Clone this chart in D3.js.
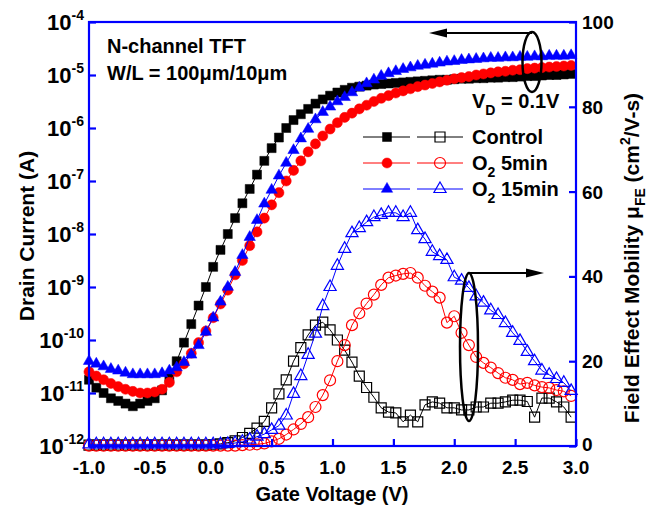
<!DOCTYPE html>
<html><head><meta charset="utf-8">
<script src="https://cdn.jsdelivr.net/npm/d3@7"></script>
<style>
body{margin:0;background:#fff}
svg{display:block}
text{font-family:"Liberation Sans",Arial,Helvetica,sans-serif;font-weight:bold;fill:#000}
</style>
</head><body>
<svg id="chart" width="647" height="510"></svg>
<script>
// ---- data ----
const gateVoltage = [
-1.00,-0.94,-0.88,-0.82,-0.76,-0.70,-0.64,-0.58,-0.52,-0.46,
-0.40,-0.34,-0.28,-0.22,-0.16,-0.10,-0.04,0.02,0.08,0.14,
0.20,0.26,0.32,0.38,0.44,0.50,0.56,0.62,0.68,0.74,
0.80,0.86,0.92,0.98,1.04,1.10,1.16,1.22,1.28,1.34,
1.40,1.46,1.52,1.58,1.64,1.70,1.76,1.82,1.88,1.94,
2.00,2.06,2.12,2.18,2.24,2.30,2.36,2.42,2.48,2.54,
2.60,2.66,2.72,2.78,2.84,2.90,2.96];

// log10 of drain current (A)
const logIdControl = [
-10.75,-10.90,-11.00,-11.10,-11.15,-11.20,-11.25,-11.20,-11.15,-11.10,
-10.95,-10.70,-10.40,-10.05,-9.70,-9.35,-9.00,-8.62,-8.30,-8.00,
-7.70,-7.42,-7.15,-6.88,-6.62,-6.38,-6.18,-6.00,-5.85,-5.74,
-5.64,-5.54,-5.46,-5.39,-5.33,-5.28,-5.24,-5.22,-5.20,-5.18,
-5.17,-5.16,-5.15,-5.14,-5.13,-5.12,-5.11,-5.10,-5.09,-5.09,
-5.08,-5.07,-5.07,-5.06,-5.06,-5.05,-5.05,-5.04,-5.04,-5.03,
-5.02,-5.02,-5.01,-5.00,-5.00,-4.99,-4.98];
const logIdO2_5 = [
-10.60,-10.68,-10.75,-10.82,-10.88,-10.93,-10.97,-11.00,-11.00,-10.98,
-10.93,-10.80,-10.60,-10.45,-10.25,-10.05,-9.83,-9.58,-9.32,-9.06,
-8.77,-8.50,-8.22,-7.96,-7.70,-7.45,-7.22,-7.00,-6.80,-6.62,
-6.45,-6.30,-6.15,-6.02,-5.90,-5.80,-5.72,-5.64,-5.57,-5.50,
-5.44,-5.39,-5.34,-5.30,-5.26,-5.22,-5.19,-5.16,-5.13,-5.10,
-5.07,-5.05,-5.03,-5.00,-4.98,-4.96,-4.94,-4.93,-4.91,-4.90,
-4.88,-4.87,-4.86,-4.85,-4.84,-4.83,-4.82];
const logIdO2_15 = [
-10.40,-10.45,-10.50,-10.55,-10.58,-10.62,-10.65,-10.65,-10.65,-10.65,
-10.63,-10.58,-10.52,-10.42,-10.28,-10.10,-9.85,-9.58,-9.28,-9.00,
-8.72,-8.40,-8.06,-7.74,-7.43,-7.17,-6.90,-6.66,-6.42,-6.20,
-6.02,-5.84,-5.70,-5.60,-5.50,-5.42,-5.33,-5.24,-5.16,-5.09,
-5.02,-4.97,-4.93,-4.89,-4.86,-4.83,-4.81,-4.79,-4.77,-4.75,
-4.74,-4.72,-4.71,-4.70,-4.69,-4.68,-4.68,-4.67,-4.67,-4.66,
-4.66,-4.65,-4.65,-4.64,-4.64,-4.64,-4.63];

// field effect mobility (cm2/V-s)
const muControl = [
0.2,0.2,0.2,0.2,0.2,0.2,0.2,0.2,0.2,0.2,
0.2,0.2,0.2,0.2,0.2,0.2,0.2,0.3,0.5,0.8,
1.2,2.0,3.0,4.2,5.8,9.0,12.3,15.6,20.0,23.2,
26.2,28.5,29.2,27.4,25.0,22.6,19.8,16.5,13.8,11.5,
9.0,8.0,7.8,5.7,7.3,5.7,9.7,10.4,10.1,9.0,
9.0,8.5,8.5,9.2,9.2,10.1,10.1,10.4,10.8,10.8,
10.5,6.8,11.3,11.3,10.4,9.2,6.8];
const muO2_5 = [
0.1,0.1,0.1,0.1,0.1,0.1,0.1,0.1,0.1,0.1,
0.1,0.1,0.1,0.1,0.1,0.1,0.1,0.1,0.1,0.1,
0.1,0.2,0.3,0.4,0.6,1.1,1.7,2.7,3.9,5.2,
6.8,9.2,12.0,15.5,20.0,23.8,28.5,31.3,33.6,35.7,
38.0,39.7,40.2,40.6,40.8,39.7,37.8,36.4,35.0,29.1,
30.6,26.7,23.8,21.0,19.6,18.5,17.2,16.1,15.6,14.6,
14.9,14.3,13.9,13.7,13.2,12.9,11.8];
const muO2_15 = [
0.4,0.4,0.4,0.4,0.4,0.4,0.4,0.4,0.4,0.4,
0.4,0.4,0.4,0.4,0.4,0.4,0.4,0.4,0.4,0.5,
0.7,1.0,1.5,2.2,2.8,3.8,4.8,7.2,12.3,16.5,
21.5,26.5,33.0,37.5,42.5,46.5,50.2,51.4,52.8,54.0,
54.5,55.0,55.0,54.0,55.0,50.9,48.8,45.8,44.8,43.9,
39.8,39.0,37.3,35.3,33.8,32.0,30.9,29.0,26.7,24.8,
22.2,20.0,17.8,16.8,15.8,14.9,13.0];

const seriesNames = ["Control", "O", "O"];
const seriesSubs = ["", "2", "2"];
const seriesRest = ["", " 5min", " 15min"];
const seriesColors = ["#000000", "#ff0000", "#0000ff"];
const seriesShapes = ["square", "circle", "triangle"];

const xTicks = [-1.0,-0.5,0.0,0.5,1.0,1.5,2.0,2.5,3.0];
const leftTickExponents = [-12,-11,-10,-9,-8,-7,-6,-5,-4];
const rightTicks = [0,20,40,60,80,100];

// ---- layout ----
const L = 89, R = 576, T = 22, B = 446;
const svg = d3.select("#chart");
svg.append("rect").attr("width",647).attr("height",510).attr("fill","#fff");

const x = d3.scaleLinear().domain([-1,3]).range([L,R]);
const yL = d3.scaleLog().domain([1e-12,1e-4]).range([B,T]);
const yR = d3.scaleLinear().domain([0,100]).range([B,T]);
const AX = "#0000ff";

function symbolFor(shape, filled){
  const type = shape==="square"?d3.symbolSquare:shape==="circle"?d3.symbolCircle:d3.symbolTriangle;
  let size;
  if(shape==="square") size = filled?81:100;
  else if(shape==="circle") size = filled?80:95;
  else size = filled?56:64;
  return d3.symbol().type(type).size(size)();
}

function drawSeries(xs, ys, yScale, idx, filled){
  const col = seriesColors[idx];
  const pts = xs.map((v,i)=>[x(v), yScale(ys[i])]);
  svg.append("path").attr("d", d3.line()(pts))
    .attr("fill","none").attr("stroke",col).attr("stroke-width",1);
  const p = symbolFor(seriesShapes[idx], filled);
  svg.append("g").selectAll("path").data(pts).join("path")
    .attr("d", p).attr("transform", d=>`translate(${d[0]},${d[1]})`)
    .attr("fill", filled?col:"none").attr("stroke", col)
    .attr("stroke-width", filled?0.5:1.2);
}

const transfer = [logIdControl, logIdO2_5, logIdO2_15];
const mobility = [muControl, muO2_5, muO2_15];
transfer.forEach((arr,i)=>drawSeries(gateVoltage, arr.map(v=>Math.pow(10,v)), yL, i, true));
mobility.forEach((arr,i)=>drawSeries(gateVoltage, arr, yR, i, false));

// ---- axes ----
const gl = svg.append("g").attr("transform",`translate(${L},0)`)
  .call(d3.axisLeft(yL).tickValues(leftTickExponents.map(e=>Math.pow(10,e))).tickSize(-7).tickFormat(""));
const gr = svg.append("g").attr("transform",`translate(${R},0)`)
  .call(d3.axisRight(yR).tickValues(rightTicks).tickSize(-7).tickFormat(""));
const gb = svg.append("g").attr("transform",`translate(0,${B})`)
  .call(d3.axisBottom(x).tickValues(xTicks).tickSize(-7).tickFormat(""));
[gl,gr,gb].forEach(g=>{
  g.select(".domain").remove();
  g.selectAll(".tick line").attr("stroke",AX).attr("stroke-width",2.2);
});
svg.append("rect").attr("x",L).attr("y",T).attr("width",R-L).attr("height",B-T)
  .attr("fill","none").attr("stroke",AX).attr("stroke-width",2.2);

// left tick labels
leftTickExponents.forEach(e=>{
  const t = svg.append("text").attr("x",84).attr("y",yL(Math.pow(10,e))+8)
    .attr("text-anchor","end").style("font-size","22px");
  t.append("tspan").text("10");
  t.append("tspan").attr("dy",-10).style("font-size","14px").text("-"+Math.abs(e));
});
// right tick labels
rightTicks.forEach(v=>{
  svg.append("text").attr("x",582).attr("y",yR(v)+7 - (v===0?2:0))
    .style("font-size","19px").text(v);
});
// bottom tick labels
xTicks.forEach(v=>{
  svg.append("text").attr("x",x(v)).attr("y",474).attr("text-anchor","middle")
    .style("font-size","19px").text(d3.format(".1f")(v).replace("−","-"));
});

// axis titles
svg.append("text").attr("x",332).attr("y",501).attr("text-anchor","middle")
  .style("font-size","20px").text("Gate Voltage (V)");
svg.append("text").attr("transform","translate(34,236) rotate(-90)").attr("text-anchor","middle")
  .style("font-size","21px").text("Drain Current (A)");
const rt = svg.append("text").attr("transform","translate(639,258) rotate(-90)").attr("text-anchor","middle")
  .style("font-size","21px");
rt.append("tspan").text("Field Effect Mobility \u03bc");
rt.append("tspan").attr("dy",6).style("font-size","14px").text("FE");
rt.append("tspan").attr("dy",-6).text(" (cm");
rt.append("tspan").attr("dy",-9).style("font-size","14px").text("2");
rt.append("tspan").attr("dy",9).text("/V-s)");

// annotations
svg.append("text").attr("x",107).attr("y",53).style("font-size","20px").text("N-channel TFT");
svg.append("text").attr("x",107).attr("y",80).style("font-size","20px").text("W/L = 100\u03bcm/10\u03bcm");
const vd = svg.append("text").attr("x",472).attr("y",108).style("font-size","20px");
vd.append("tspan").text("V");
vd.append("tspan").attr("dy",7).style("font-size","14px").text("D");
vd.append("tspan").attr("dy",-7).text(" = 0.1V");

// ellipses and arrows
svg.append("ellipse").attr("cx",532).attr("cy",62).attr("rx",9.5).attr("ry",30)
  .attr("fill","none").attr("stroke","#000").attr("stroke-width",2.5);
svg.append("line").attr("x1",532).attr("y1",33).attr("x2",444).attr("y2",33)
  .attr("stroke","#000").attr("stroke-width",2);
svg.append("path").attr("d","M429,33 L447,28.5 L447,37.5 Z").attr("fill","#000");

svg.append("ellipse").attr("cx",469).attr("cy",347).attr("rx",9).attr("ry",74)
  .attr("fill","none").attr("stroke","#000").attr("stroke-width",2.5);
svg.append("line").attr("x1",469).attr("y1",273).attr("x2",527).attr("y2",273)
  .attr("stroke","#000").attr("stroke-width",2);
svg.append("path").attr("d","M544,273 L526,268.5 L526,277.5 Z").attr("fill","#000");

// legend
const legY = [137,163,189];
seriesNames.forEach((n,i)=>{
  const y = legY[i], col = seriesColors[i];
  svg.append("line").attr("x1",363).attr("x2",410).attr("y1",y).attr("y2",y).attr("stroke",col).attr("stroke-width",1);
  svg.append("line").attr("x1",417).attr("x2",463).attr("y1",y).attr("y2",y).attr("stroke",col).attr("stroke-width",1);
  svg.append("path").attr("d",symbolFor(seriesShapes[i],true)).attr("transform",`translate(387,${y})`)
    .attr("fill",col).attr("stroke",col).attr("stroke-width",0.5);
  svg.append("path").attr("d",symbolFor(seriesShapes[i],false)).attr("transform",`translate(440,${y})`)
    .attr("fill","none").attr("stroke",col).attr("stroke-width",1.2);
  const t = svg.append("text").attr("x",472).attr("y",y+7).style("font-size","20px");
  t.append("tspan").text(n);
  if(seriesSubs[i]){
    t.append("tspan").attr("dy",7).style("font-size","14px").text(seriesSubs[i]);
    t.append("tspan").attr("dy",-7).text(seriesRest[i]);
  }
});
</script>
</body></html>
